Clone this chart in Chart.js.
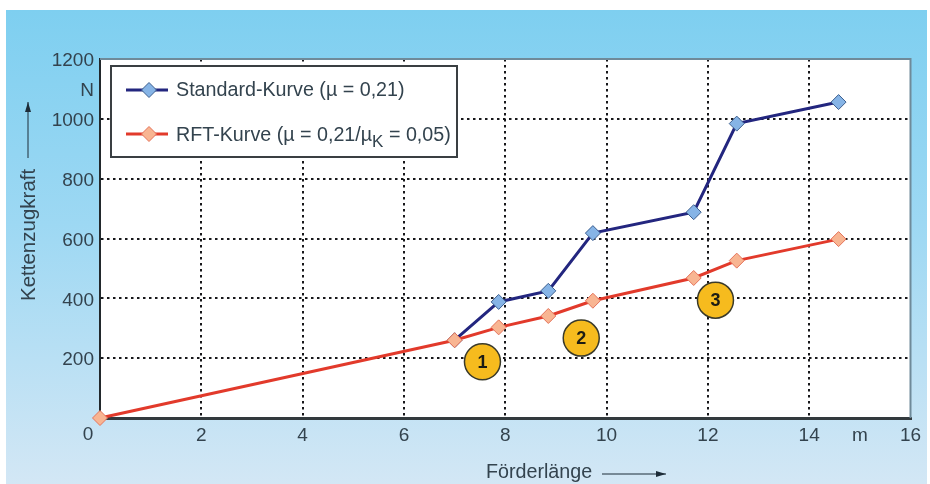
<!DOCTYPE html>
<html>
<head>
<meta charset="utf-8">
<script src="https://cdn.jsdelivr.net/npm/chart.js@4/dist/chart.umd.min.js"></script>
<style>
    html, body { margin: 0; padding: 0; background: #fff; }
    #wrap { position: relative; width: 930px; height: 484px; overflow: hidden; }
    #panel { position: absolute; left: 6px; top: 10px; width: 921px; height: 474px;
             background: linear-gradient(#7ecff0 0%, #9dd8f3 45%, #d3e7f5 100%); }
    #chart { position: absolute; left: 0; top: 0; }
</style>
</head>
<body>
<div id="wrap">
    <div id="panel"></div>
    <canvas id="chart" width="930" height="484"></canvas>
</div>
<script>
const foerderlaenge = [0, 7.0, 7.87, 8.85, 9.73, 11.72, 12.57, 14.58];
const standardKurve = [null, 260, 388, 425, 618, 688, 984, 1056];
const rftKurve = [0, 260, 303, 341, 392, 468, 526, 598];

const badgeX = [7.55, 9.5, 12.15];
const badgeY = [188, 267, 394];
const badgeLabels = ['1', '2', '3'];

const xTicks = [0, 2, 4, 6, 8, 10, 12, 14, 15, 16];
const xTickLabels = ['', '2', '4', '6', '8', '10', '12', '14', 'm', '16'];
const yTicks = [0, 200, 400, 600, 800, 1000, 1100, 1200];
const yTickLabels = ['', '200', '400', '600', '800', '1000', 'N', '1200'];

const textColor = '#33434e';
const fontName = '"Liberation Sans", Arial, sans-serif';

function points(xs, ys) {
    return xs.map((x, i) => ({ x: x, y: ys[i] })).filter(p => p.y !== null);
}

function arrow(ctx, x1, y1, x2, y2) {
    const ang = Math.atan2(y2 - y1, x2 - x1);
    ctx.save();
    ctx.strokeStyle = '#1d2c38';
    ctx.fillStyle = '#1d2c38';
    ctx.lineWidth = 1;
    ctx.beginPath();
    ctx.moveTo(x1, y1);
    ctx.lineTo(x2, y2);
    ctx.stroke();
    ctx.translate(x2, y2);
    ctx.rotate(ang);
    ctx.beginPath();
    ctx.moveTo(0, 0);
    ctx.lineTo(-10, -3);
    ctx.lineTo(-10, 3);
    ctx.closePath();
    ctx.fill();
    ctx.restore();
}

function legendRow(ctx, y, line, fill, border) {
    ctx.strokeStyle = line;
    ctx.lineWidth = 3;
    ctx.beginPath();
    ctx.moveTo(126, y);
    ctx.lineTo(168, y);
    ctx.stroke();
    ctx.fillStyle = fill;
    ctx.strokeStyle = border;
    ctx.lineWidth = 1;
    Chart.helpers.drawPoint(ctx, { pointStyle: 'rectRot', radius: 7.5, rotation: 0, borderWidth: 1 }, 149, y);
}

// plot background, outer frame, legend box, axis titles and the badge numbers
const decorations = {
    id: 'decorations',
    beforeDraw(chart) {
        const a = chart.chartArea, ctx = chart.ctx;
        ctx.save();
        ctx.fillStyle = '#ffffff';
        ctx.fillRect(a.left, a.top, a.right - a.left, a.bottom - a.top);
        ctx.restore();
    },
    beforeDatasetsDraw(chart) {
        const a = chart.chartArea, ctx = chart.ctx;
        ctx.save();
        ctx.strokeStyle = '#6f8a99';
        ctx.lineWidth = 2;
        ctx.beginPath();
        ctx.moveTo(a.left, a.top);
        ctx.lineTo(a.right, a.top);
        ctx.lineTo(a.right, a.bottom);
        ctx.stroke();

        // legend
        ctx.fillStyle = '#ffffff';
        ctx.fillRect(111, 66, 346, 91);
        ctx.strokeStyle = '#3a3f42';
        ctx.lineWidth = 2;
        ctx.strokeRect(111, 66, 346, 91);
        legendRow(ctx, 90, '#23267f', '#86b4e6', '#3d5f8f');
        legendRow(ctx, 134, '#e23a2b', '#f8b592', '#e6735a');

        ctx.fillStyle = textColor;
        ctx.textBaseline = 'middle';
        ctx.textAlign = 'left';
        ctx.font = '19.7px ' + fontName;
        ctx.fillText('Standard-Kurve (µ = 0,21)', 176, 91);
        let x = 176;
        const first = 'RFT-Kurve (µ = 0,21/µ';
        ctx.fillText(first, x, 136);
        x += ctx.measureText(first).width;
        ctx.font = '17px ' + fontName;
        ctx.fillText('K', x, 142);
        x += ctx.measureText('K').width;
        ctx.font = '19.7px ' + fontName;
        ctx.fillText(' = 0,05)', x, 136);

        // zero of the x axis sits left of the origin
        ctx.font = '19px ' + fontName;
        ctx.textAlign = 'center';
        ctx.fillText('0', 88, 435);

        // axis titles
        ctx.font = '19.7px ' + fontName;
        ctx.textAlign = 'left';
        ctx.fillText('Förderlänge', 486, 473);
        arrow(ctx, 602, 474, 666, 474);
        ctx.font = '20.5px ' + fontName;
        ctx.translate(29, 301);
        ctx.rotate(-Math.PI / 2);
        ctx.fillText('Kettenzugkraft', 0, 0);
        ctx.restore();
        arrow(ctx, 28, 158, 28, 102);
    },
    afterDatasetsDraw(chart) {
        const ctx = chart.ctx;
        const meta = chart.getDatasetMeta(0);
        ctx.save();
        ctx.fillStyle = '#1c1c14';
        ctx.font = 'bold 18px ' + fontName;
        ctx.textAlign = 'center';
        ctx.textBaseline = 'middle';
        meta.data.forEach((el, i) => ctx.fillText(badgeLabels[i], el.x, el.y + 1));
        ctx.restore();
    }
};

const ctx = document.getElementById('chart').getContext('2d');

const myChart = new Chart(ctx, {
    type: 'line',
    data: {
        datasets: [{
            label: 'Markierung',
            data: points(badgeX, badgeY),
            showLine: false,
            pointStyle: 'circle',
            pointRadius: 18,
            pointBackgroundColor: '#f6bb1e',
            pointBorderColor: '#3a3a2a',
            pointBorderWidth: 1.5,
            order: 0
        }, {
            label: 'RFT-Kurve',
            data: points(foerderlaenge, rftKurve),
            borderColor: '#e23a2b',
            borderWidth: 3,
            tension: 0,
            clip: false,
            pointStyle: 'rectRot',
            pointRadius: 7.5,
            pointBackgroundColor: '#f8b592',
            pointBorderColor: '#e6735a',
            pointBorderWidth: 1,
            order: 1
        }, {
            label: 'Standard-Kurve',
            data: points(foerderlaenge, standardKurve),
            borderColor: '#23267f',
            borderWidth: 3,
            tension: 0,
            pointStyle: 'rectRot',
            pointRadius: 7.5,
            pointBackgroundColor: '#86b4e6',
            pointBorderColor: '#3d5f8f',
            pointBorderWidth: 1,
            order: 2
        }]
    },
    options: {
        responsive: false,
        animation: false,
        layout: { padding: { left: 0, right: 19, top: 59, bottom: 0 } },
        plugins: {
            legend: { display: false },
            title: { display: false },
            tooltip: { enabled: false }
        },
        scales: {
            x: {
                type: 'linear',
                min: 0,
                max: 16,
                afterBuildTicks: scale => { scale.ticks = xTicks.map(v => ({ value: v })); },
                afterFit: scale => { scale.height = 66; },
                ticks: {
                    autoSkip: false,
                    maxRotation: 0,
                    padding: 6,
                    color: textColor,
                    font: { family: fontName, size: 19 },
                    callback: (value, i) => xTickLabels[i]
                },
                grid: {
                    drawTicks: false,
                    lineWidth: 2,
                    color: c => (c.tick && [0, 15, 16].includes(c.tick.value)) ? 'rgba(0,0,0,0)' : '#17171a'
                },
                border: { display: true, color: '#333a3e', width: 3, dash: [2.5, 3.5] }
            },
            y: {
                min: 0,
                max: 1200,
                afterBuildTicks: scale => { scale.ticks = yTicks.map(v => ({ value: v })); },
                afterFit: scale => { scale.width = 100; },
                ticks: {
                    autoSkip: false,
                    padding: 6,
                    labelOffset: 2,
                    color: textColor,
                    font: { family: fontName, size: 19 },
                    callback: (value, i) => yTickLabels[i]
                },
                grid: {
                    drawTicks: false,
                    lineWidth: 2,
                    color: c => (c.tick && [0, 1100, 1200].includes(c.tick.value)) ? 'rgba(0,0,0,0)' : '#17171a'
                },
                border: { display: true, color: '#22282c', width: 2, dash: [2.5, 3.5] }
            }
        }
    },
    plugins: [decorations]
});
</script>
</body>
</html>
